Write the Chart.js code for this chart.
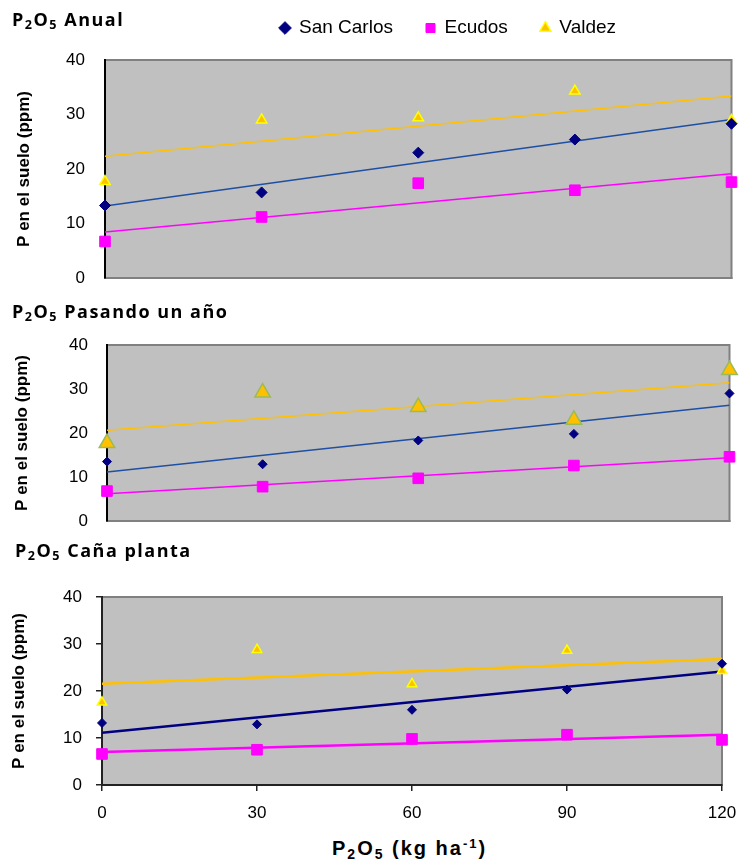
<!DOCTYPE html>
<html>
<head>
<meta charset="utf-8">
<script src="https://cdn.jsdelivr.net/npm/chart.js@4.4.1/dist/chart.umd.min.js"></script>
<style>
  body { margin: 0; background: #fff; width: 740px; height: 863px; position: relative; overflow: hidden; }
  canvas { position: absolute; left: 0; }
  .titulo { position: absolute; font-family: 'Open Sans', sans-serif; font-weight: bold; font-size: 18px; line-height: 18px; letter-spacing: 1.5px; color: #000; white-space: nowrap; }
  .ejeX { position: absolute; font-family: 'Liberation Sans', Arial, sans-serif; font-weight: bold; font-size: 20px; line-height: 20px; letter-spacing: 2px; color: #000; white-space: nowrap; }
  sub { font-size: 70%; vertical-align: -0.25em; line-height: 0; }
  sup { font-size: 65%; vertical-align: 0.55em; line-height: 0; }
</style>
</head>
<body>
<canvas id="panelAnual" width="740" height="292" style="top:0px"></canvas>
<canvas id="panelPasando" width="740" height="210" style="top:325px"></canvas>
<canvas id="panelCana" width="740" height="275" style="top:560px"></canvas>

<div class="titulo" style="left:12px; top:10px">P<sub>2</sub>O<sub>5</sub> Anual</div>
<div class="titulo" style="left:12px; top:302px">P<sub>2</sub>O<sub>5</sub> Pasando un año</div>
<div class="titulo" style="left:15px; top:541px">P<sub>2</sub>O<sub>5</sub> Caña planta</div>
<div class="ejeX" style="left:332px; top:838px">P<sub>2</sub>O<sub>5</sub> (kg ha<sup>-1</sup>)</div>

<script>
// dosis de P2O5 (kg/ha)
const dosis = [0, 30, 60, 90, 120];
const marcasX = [0, 30, 60, 90, 120];
const marcasY = [0, 10, 20, 30, 40];

// P2O5 Anual
const anualSanCarlos = [13.3, 15.7, 23.0, 25.4, 28.3];
const anualEcudos = [6.7, 11.2, 17.4, 16.1, 17.6];
const anualValdez = [17.7, 29.0, 29.4, 34.3, 28.9];

// P2O5 Pasando un año
const pasandoSanCarlos = [13.5, 12.9, 18.3, 19.8, 29.0];
const pasandoEcudos = [6.8, 7.8, 9.7, 12.6, 14.6];
const pasandoValdez = [17.7, 29.2, 25.9, 23.0, 34.3];

// P2O5 Caña planta
const canaSanCarlos = [13.2, 12.9, 16.0, 20.3, 25.8];
const canaEcudos = [6.6, 7.5, 9.8, 10.7, 9.6];
const canaValdez = [17.6, 28.8, 21.5, 28.6, 24.3];

Chart.defaults.font.family = "'Liberation Sans', Arial, sans-serif";
Chart.defaults.font.size = 17;
Chart.defaults.color = '#000';

// recta de minimos cuadrados, como la linea de tendencia de Excel
function tendencia(ys) {
    var n = dosis.length, mx = 0, my = 0;
    for (var i = 0; i < n; i++) { mx += dosis[i] / n; my += ys[i] / n; }
    var sxy = 0, sxx = 0;
    for (var i = 0; i < n; i++) {
        sxy += (dosis[i] - mx) * (ys[i] - my);
        sxx += (dosis[i] - mx) * (dosis[i] - mx);
    }
    var b = sxy / sxx, a = my - b * mx;
    var x0 = dosis[0], x1 = dosis[n - 1];
    return [{ x: x0, y: a + b * x0 }, { x: x1, y: a + b * x1 }];
}

function puntos(ys) {
    return dosis.map(function (x, i) { return { x: x, y: ys[i] }; });
}

// fondo gris del area de trazado
const fondoArea = {
    id: 'fondoArea',
    beforeDraw(chart) {
        const ctx = chart.ctx, a = chart.chartArea;
        ctx.save();
        ctx.fillStyle = '#c0c0c0';
        ctx.fillRect(a.left, a.top, a.width, a.height);
        ctx.strokeStyle = '#808080';
        ctx.lineWidth = 2;
        ctx.strokeRect(a.left, a.top, a.width, a.height);
        ctx.restore();
    }
};

// la leyenda va arriba, corrida a la derecha
const posLeyenda = {
    id: 'posLeyenda',
    afterLayout(chart, args, opts) {
        const lg = chart.legend;
        if (!lg || !lg.options.display || opts.x === undefined) return;
        const pad = lg.options.labels.padding;
        const medio = lg.options.labels.font.size / 2;
        lg.left = opts.x - pad;
        lg.right = lg.left + 700;
        lg.top = opts.y - pad - medio;
        lg.bottom = opts.y + 20;
        lg.width = lg.right - lg.left;
        lg.height = lg.bottom - lg.top;
    }
};

function crearPanel(id, sanCarlos, ecudos, valdez, est) {
    return new Chart(document.getElementById(id), {
        type: 'scatter',
        data: {
            datasets: [
                { label: 'San Carlos', data: puntos(sanCarlos), pointStyle: 'rectRot', pointRadius: est.rDiamante,
                  backgroundColor: '#000080', borderColor: '#000080', borderWidth: 1, clip: false },
                { label: 'Ecudos', data: puntos(ecudos), pointStyle: 'rect', pointRadius: est.rCuadro,
                  backgroundColor: '#ff00ff', borderColor: '#ff00ff', borderWidth: 1, clip: false },
                { label: 'Valdez', data: puntos(valdez), pointStyle: 'triangle', pointRadius: est.rTriangulo,
                  backgroundColor: '#ffc000', borderColor: est.bordeTriangulo, borderWidth: 1.5, clip: false },
                { label: 'tend1', data: tendencia(sanCarlos), showLine: true, pointRadius: 0,
                  borderColor: est.colorTendSC, borderWidth: est.grosor },
                { label: 'tend2', data: tendencia(ecudos), showLine: true, pointRadius: 0,
                  borderColor: '#ff00ff', borderWidth: est.grosor },
                { label: 'tend3', data: tendencia(valdez), showLine: true, pointRadius: 0,
                  borderColor: '#ffc000', borderWidth: est.grosor }
            ]
        },
        options: {
            responsive: false,
            animation: false,
            events: [],
            layout: { padding: est.padding },
            plugins: {
                legend: {
                    display: est.leyenda,
                    position: 'top',
                    align: 'start',
                    maxHeight: 40,
                    labels: {
                        usePointStyle: true, boxWidth: 9, boxHeight: 9, padding: 33,
                        font: { size: 19 }, color: '#000',
                        filter: function (item) { return item.datasetIndex < 3; }
                    }
                },
                posLeyenda: est.leyenda ? { x: 280.5, y: 28 } : {},
                tooltip: { enabled: false }
            },
            scales: {
                x: {
                    type: 'linear', min: 0, max: 120,
                    afterBuildTicks: function (ax) { ax.ticks = marcasX.map(function (v) { return { value: v }; }); },
                    ticks: { display: est.marcas, padding: 12, color: '#000' },
                    grid: { display: est.marcas, drawTicks: est.marcas, drawOnChartArea: false, tickLength: 6, color: '#222', lineWidth: 1.5 },
                    border: { color: est.marcas ? '#222' : '#808080', width: 2 },
                    afterFit: function (ax) { ax.height = est.altoX; ax.paddingLeft = 0; ax.paddingRight = 0; }
                },
                y: {
                    min: 0, max: 40,
                    afterBuildTicks: function (ax) { ax.ticks = marcasY.map(function (v) { return { value: v }; }); },
                    ticks: { padding: est.padTicksY, color: '#000' },
                    grid: { display: est.marcas, drawTicks: est.marcas, drawOnChartArea: false, tickLength: 6, color: '#222', lineWidth: 1.5 },
                    border: { color: est.marcas ? '#222' : '#000', width: 2 },
                    title: {
                        display: true, text: 'P en el suelo (ppm)', color: '#000',
                        font: { size: 17, weight: 'bold' }, padding: { top: est.padTitulo, bottom: 0 }
                    },
                    afterFit: function (ax) { ax.width = est.anchoY; ax.paddingTop = 0; ax.paddingBottom = 0; }
                }
            }
        },
        plugins: [fondoArea, posLeyenda]
    });
}

crearPanel('panelAnual', anualSanCarlos, anualEcudos, anualValdez, {
    padding: { top: 20, left: 0, right: 7, bottom: 14 }, anchoY: 105, altoX: 0,
    leyenda: true, marcas: false, padTicksY: 20, padTitulo: 14,
    rDiamante: 5.5, rCuadro: 7.5, rTriangulo: 6, bordeTriangulo: '#ffff00',
    colorTendSC: '#1f4fa3', grosor: 1.5
});

crearPanel('panelPasando', pasandoSanCarlos, pasandoEcudos, pasandoValdez, {
    padding: { top: 20, left: 0, right: 4, bottom: 14 }, anchoY: 107, altoX: 0,
    leyenda: false, marcas: false, padTicksY: 19, padTitulo: 12,
    rDiamante: 4.5, rCuadro: 7.5, rTriangulo: 9, bordeTriangulo: '#9bbb59',
    colorTendSC: '#1f4fa3', grosor: 1.5
});

crearPanel('panelCana', canaSanCarlos, canaEcudos, canaValdez, {
    padding: { top: 37, left: 0, right: 18, bottom: 0 }, anchoY: 102, altoX: 50,
    leyenda: false, marcas: true, padTicksY: 14, padTitulo: 9,
    rDiamante: 4.5, rCuadro: 7.5, rTriangulo: 5.5, bordeTriangulo: '#ffff00',
    colorTendSC: '#000080', grosor: 2.5
});
</script>
</body>
</html>
